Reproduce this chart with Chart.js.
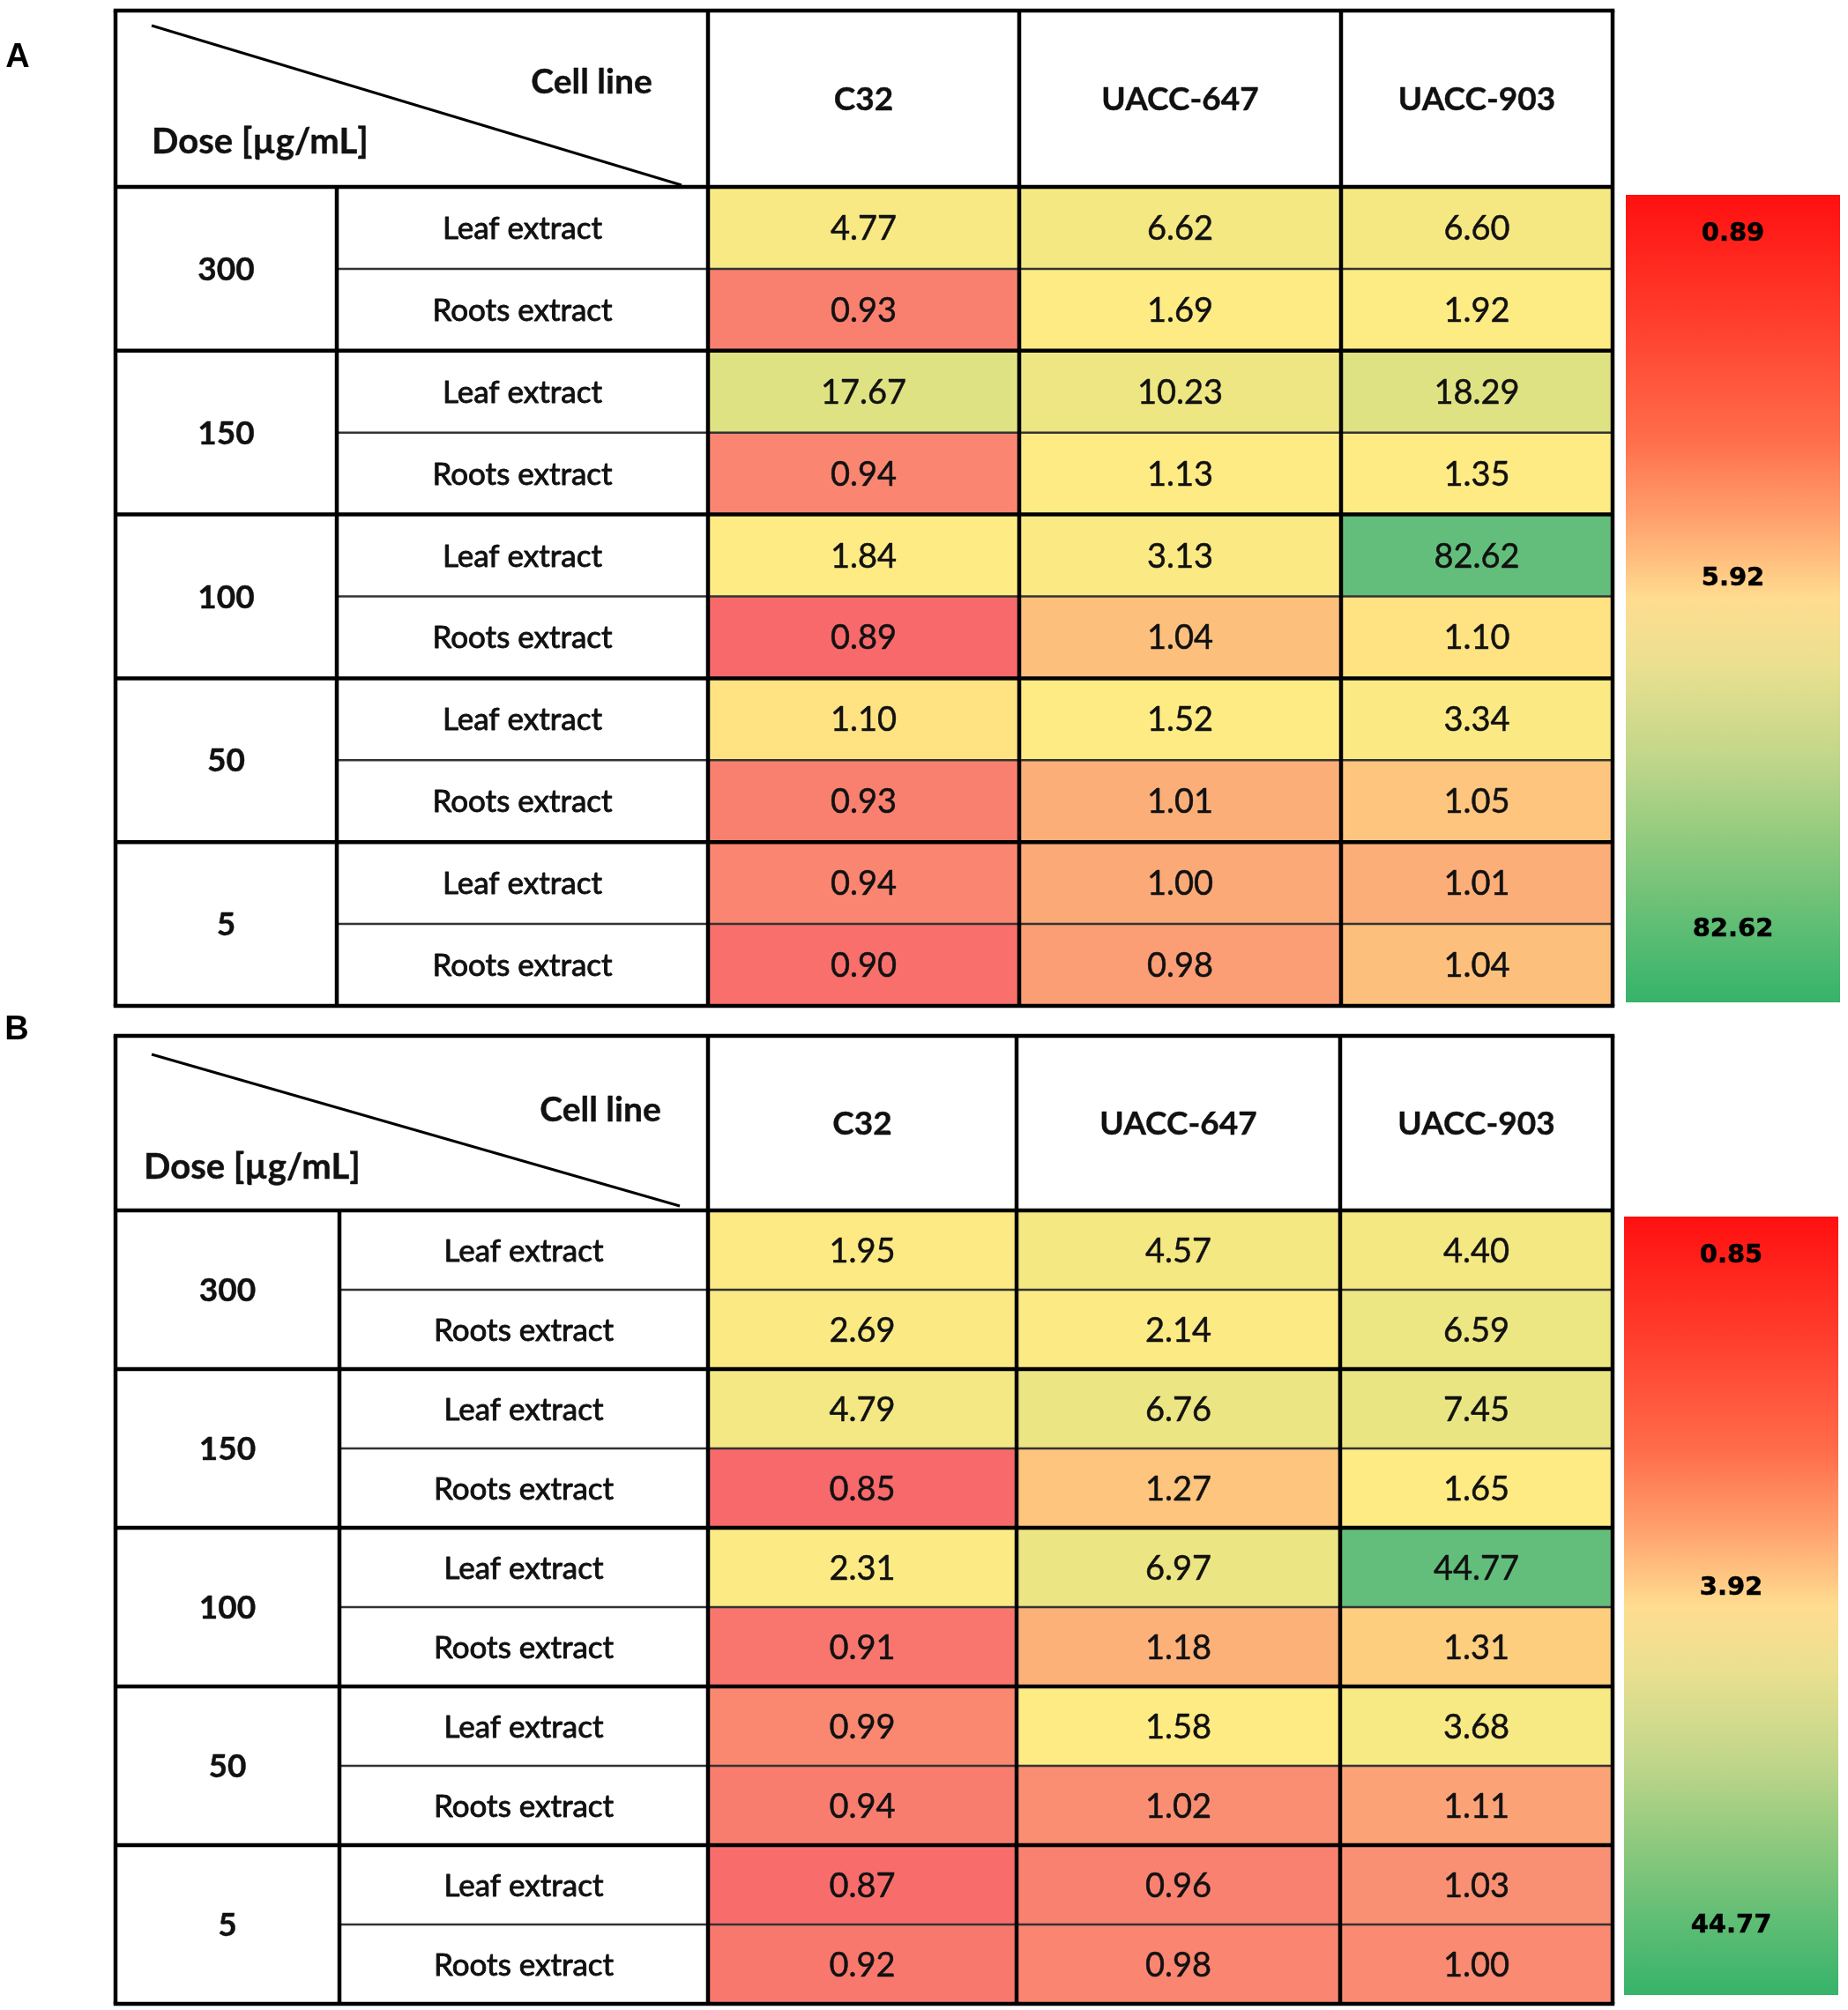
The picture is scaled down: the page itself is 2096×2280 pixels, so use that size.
<!DOCTYPE html>
<html><head><meta charset="utf-8">
<script src="https://cdn.jsdelivr.net/npm/chart.js@4.4.1/dist/chart.umd.min.js"></script>
<style>
html,body{margin:0;padding:0;background:#fff;}
#wrap{position:relative;width:2096px;height:2280px;background:#fff;}
canvas{position:absolute;left:0;}
</style></head><body>
<div id="wrap">
<canvas id="cA" width="2096" height="1160" style="top:0px"></canvas>
<canvas id="cB" width="2096" height="1150" style="top:1130px"></canvas>
</div>
<script>
// ---------- DATA ----------
const cellLines = ['C32', 'UACC-647', 'UACC-903'];
const doses = ['300', '150', '100', '50', '5'];
const extracts = ['Leaf extract', 'Roots extract'];
// rows: 300 leaf, 300 roots, 150 leaf, 150 roots, 100 leaf, 100 roots, 50 leaf, 50 roots, 5 leaf, 5 roots
const panelA_C32     = [4.77, 0.93, 17.67, 0.94, 1.84, 0.89, 1.10, 0.93, 0.94, 0.90];
const panelA_UACC647 = [6.62, 1.69, 10.23, 1.13, 3.13, 1.04, 1.52, 1.01, 1.00, 0.98];
const panelA_UACC903 = [6.60, 1.92, 18.29, 1.35, 82.62, 1.10, 3.34, 1.05, 1.01, 1.04];
const panelB_C32     = [1.95, 2.69, 4.79, 0.85, 2.31, 0.91, 0.99, 0.94, 0.87, 0.92];
const panelB_UACC647 = [4.57, 2.14, 6.76, 1.27, 6.97, 1.18, 1.58, 1.02, 0.96, 0.98];
const panelB_UACC903 = [4.40, 6.59, 7.45, 1.65, 44.77, 1.31, 3.68, 1.11, 1.03, 1.00];
const legendA = ['0.89', '5.92', '82.62'];
const legendB = ['0.85', '3.92', '44.77'];

// ---------- LAYOUT (page coordinates) ----------
const geoA = {
  canvasTop: 0, canvasH: 1160, letter: 'A', letterXY: [20, 62],
  tableLeft: 131, tableTop: 12, headerBottom: 212, tableBottom: 1141,
  doseRight: 382, labelRight: 803, tableRight: 1829, colWidths: [353, 365, 308],
  diag: [172, 29, 773, 210], cellLineXY: [671, 92], doseXY: [172, 160],
  bar: [1844, 221, 2087, 1137], legendY: [262, 653, 1051]
};
const geoB = {
  canvasTop: 1130, canvasH: 1150, letter: 'B', letterXY: [19, 1165],
  tableLeft: 131, tableTop: 1175, headerBottom: 1373, tableBottom: 2273,
  doseRight: 385, labelRight: 803, tableRight: 1829, colWidths: [350, 367, 309],
  diag: [172, 1196, 771, 1368], cellLineXY: [681, 1258], doseXY: [163, 1323],
  bar: [1842, 1380, 2085, 2263], legendY: [1421, 1798, 2181]
};

const rowLabels = doses.flatMap(d => extracts.map(e => d + ' ' + e));
const FONT = 'Lato, "Open Sans", sans-serif';

function makeScale(values) {
  const s = [...values].sort((a, b) => a - b);
  const n = s.length, r = 0.5 * (n - 1), lo = Math.floor(r);
  const mid = s[lo] + (r - lo) * (s[lo + 1] - s[lo]);
  const mn = s[0], mx = s[n - 1];
  const cMin = [248, 105, 107], cMid = [255, 235, 132], cMax = [99, 190, 123];
  const lerp = (a, b, t) => a.map((v, i) => Math.round(v + (b[i] - v) * t));
  return v => {
    const c = v <= mid ? lerp(cMin, cMid, (v - mn) / (mid - mn)) : lerp(cMid, cMax, (v - mid) / (mx - mid));
    return 'rgb(' + c.join(',') + ')';
  };
}

function heavyText(ctx, t, x, y, w) {
  ctx.fillText(t, x, y);
  if (w > 0) { ctx.lineWidth = w; ctx.strokeStyle = ctx.fillStyle; ctx.strokeText(t, x, y); }
}

function makePanel(id, geo, series, legendLabels) {
  const off = geo.canvasTop;
  const colorOf = makeScale(series.flat());
  const edges = [0];
  geo.colWidths.forEach(w => edges.push(edges[edges.length - 1] + w));

  const datasets = series.map((vals, j) => ({
    label: cellLines[j],
    data: vals.map(() => [edges[j], edges[j + 1]]),
    values: vals,
    backgroundColor: vals.map(colorOf),
    borderWidth: 0,
    barPercentage: 1,
    categoryPercentage: 1,
    grouped: false
  }));

  const tablePlugin = {
    id: 'tableDecor' + id,
    afterDraw(chart) {
      const ctx = chart.ctx, ca = chart.chartArea, xs = chart.scales.x, ys = chart.scales.y;
      const Y = v => v - off;
      const half = (ca.bottom - ca.top) / rowLabels.length / 2;
      const rowC = i => ys.getPixelForValue(i);
      const rowEdge = i => rowC(i) + half; // bottom edge of row i
      ctx.save();
      ctx.lineJoin = 'round';

      // cell values
      ctx.fillStyle = '#111';
      ctx.textAlign = 'center';
      ctx.textBaseline = 'alphabetic';
      ctx.font = '38px ' + FONT;
      chart.data.datasets.forEach((ds, j) => {
        chart.getDatasetMeta(j).data.forEach((el, i) => {
          heavyText(ctx, ds.values[i].toFixed(2), (el.x + el.base) / 2, el.y + 13.5, 0.5);
        });
      });

      // row labels
      const labelCx = (geo.doseRight + geo.labelRight) / 2;
      ctx.font = '35px ' + FONT;
      rowLabels.forEach((lab, i) => {
        heavyText(ctx, extracts[i % 2], labelCx, rowC(i) + 12.5, 0.9);
      });
      const doseCx = (geo.tableLeft + geo.doseRight) / 2;
      ctx.font = 'bold 37px ' + FONT;
      doses.forEach((d, g) => {
        const cy = (rowC(2 * g) + rowC(2 * g + 1)) / 2;
        heavyText(ctx, d, doseCx, cy + 13, 0.4);
      });

      // header
      const hCy = (Y(geo.tableTop) + ca.top) / 2;
      ctx.font = 'bold 37px ' + FONT;
      cellLines.forEach((c, j) => {
        const cx = (xs.getPixelForValue(edges[j]) + xs.getPixelForValue(edges[j + 1])) / 2;
        heavyText(ctx, c, cx, hCy + 13, 0.4);
      });
      ctx.font = 'bold 39px ' + FONT;
      heavyText(ctx, 'Cell line', geo.cellLineXY[0], Y(geo.cellLineXY[1]) + 14, 0.4);
      ctx.textAlign = 'left';
      ctx.font = 'bold 40px ' + FONT;
      heavyText(ctx, 'Dose [µg/mL]', geo.doseXY[0], Y(geo.doseXY[1]) + 14, 0.4);

      // diagonal
      ctx.strokeStyle = '#000';
      ctx.lineWidth = 3;
      ctx.beginPath();
      ctx.moveTo(geo.diag[0], Y(geo.diag[1]));
      ctx.lineTo(geo.diag[2], Y(geo.diag[3]));
      ctx.stroke();

      // thin dividers
      ctx.strokeStyle = '#333';
      ctx.lineWidth = 2.5;
      for (let g = 0; g < doses.length; g++) {
        const y = rowEdge(2 * g);
        ctx.beginPath(); ctx.moveTo(geo.doseRight, y); ctx.lineTo(ca.right, y); ctx.stroke();
      }
      // thick lines
      ctx.strokeStyle = '#000';
      ctx.lineWidth = 4.5;
      const hl = (y, x0, x1) => { ctx.beginPath(); ctx.moveTo(x0, y); ctx.lineTo(x1, y); ctx.stroke(); };
      const vl = (x, y0, y1) => { ctx.beginPath(); ctx.moveTo(x, y0); ctx.lineTo(x, y1); ctx.stroke(); };
      const tTop = Y(geo.tableTop);
      for (let g = 0; g < doses.length - 1; g++) hl(rowEdge(2 * g + 1), geo.tableLeft, ca.right);
      hl(ca.top, geo.tableLeft, ca.right);
      hl(tTop, geo.tableLeft - 2.25, ca.right + 2.25);
      hl(ca.bottom, geo.tableLeft - 2.25, ca.right + 2.25);
      vl(geo.tableLeft, tTop, ca.bottom);
      vl(geo.doseRight, ca.top, ca.bottom);
      vl(ca.left, tTop, ca.bottom);
      for (let j = 1; j < edges.length - 1; j++) vl(xs.getPixelForValue(edges[j]), tTop, ca.bottom);
      vl(ca.right, tTop, ca.bottom);

      // color bar legend
      const [bx0, by0, bx1, by1] = geo.bar;
      const grad = ctx.createLinearGradient(0, Y(by0), 0, Y(by1));
      const stops = [[0, '#ff1010'], [0.15, '#ff3c2c'], [0.3, '#ff6c4a'], [0.4, '#ffa06c'],
                     [0.5, '#ffdc90'], [0.58, '#ebe090'], [0.7, '#c0d68a'], [0.8, '#90ca7e'],
                     [0.9, '#62be75'], [1, '#36b36a']];
      stops.forEach(s => grad.addColorStop(s[0], s[1]));
      ctx.fillStyle = grad;
      ctx.fillRect(bx0, Y(by0), bx1 - bx0, by1 - by0);
      ctx.fillStyle = '#000';
      ctx.textAlign = 'center';
      ctx.font = 'bold 29px "DejaVu Sans", sans-serif';
      legendLabels.forEach((t, k) => heavyText(ctx, t, (bx0 + bx1) / 2, Y(geo.legendY[k]) + 10.5, 0.5));

      // panel letter
      ctx.font = 'bold 38px "Liberation Sans", Arial, sans-serif';
      ctx.textAlign = 'center';
      ctx.fillText(geo.letter, geo.letterXY[0], Y(geo.letterXY[1]) + 14);
      ctx.restore();
    }
  };

  return new Chart(document.getElementById(id), {
    type: 'bar',
    data: { labels: rowLabels, datasets },
    options: {
      indexAxis: 'y',
      responsive: false,
      maintainAspectRatio: false,
      devicePixelRatio: 1,
      animation: false,
      events: [],
      layout: {
        padding: {
          left: geo.labelRight,
          right: 2096 - geo.tableRight,
          top: geo.headerBottom - off,
          bottom: off + geo.canvasH - geo.tableBottom
        }
      },
      scales: {
        x: { type: 'linear', min: 0, max: edges[edges.length - 1], display: false },
        y: { type: 'category', display: false, offset: true }
      },
      plugins: { legend: { display: false }, tooltip: { enabled: false }, title: { display: false } }
    },
    plugins: [tablePlugin]
  });
}

makePanel('cA', geoA, [panelA_C32, panelA_UACC647, panelA_UACC903], legendA);
makePanel('cB', geoB, [panelB_C32, panelB_UACC647, panelB_UACC903], legendB);
</script>
</body></html>
